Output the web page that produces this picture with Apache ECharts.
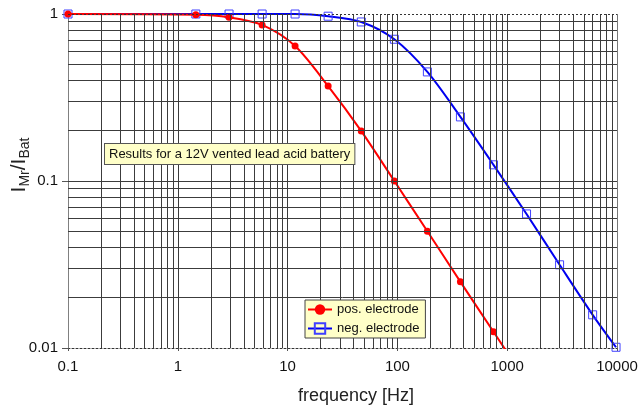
<!DOCTYPE html>
<html>
<head>
<meta charset="utf-8">
<script src="https://cdn.jsdelivr.net/npm/echarts@6/dist/echarts.min.js"></script>
<style>
  html, body { margin: 0; padding: 0; background: #fff; }
  #chart { width: 643px; height: 410px; }
</style>
</head>
<body>
<div id="chart"></div>
<script>
// Current ratio I_Mr / I_Bat versus frequency, per electrode
const freqPos  = [0.1, 1.46, 2.93, 5.86, 11.7, 23.4, 46.9, 93.8, 187.5, 375, 750, 1500];
const ratioPos = [1, 0.99, 0.955, 0.86, 0.643, 0.37, 0.199, 0.1, 0.05, 0.0249, 0.0125, 0.0063];

const freqNeg  = [0.1, 1.46, 2.93, 5.86, 11.7, 23.4, 46.9, 93.8, 187.5, 375, 750, 1500, 3000, 6000, 9800];
const ratioNeg = [1, 1, 1, 1, 1, 0.97, 0.896, 0.706, 0.45, 0.242, 0.125, 0.0635, 0.0315, 0.0158, 0.0101];

const seriesNames = ['pos. electrode', 'neg. electrode'];
const xTickLabels = ['0.1', '1', '10', '100', '1000', '10000'];
const yTickLabels = ['0.01', '0.1', '1'];
const noteText = 'Results for a 12V vented lead acid battery';

const FONT = '"Liberation Sans", Arial, sans-serif';
const GRID_COLOR = '#3c3c3c';

// Log-paper grid: lines at 2..9 within each decade plus the decade lines
const gridLines = [];
const solid = { type: 'solid', color: GRID_COLOR, width: 1 };
const dotted = { type: [2, 2], color: '#333', width: 1 };
[0.1, 1, 10, 100, 1000].forEach(d => {
  for (let k = 2; k <= 9; k++) gridLines.push({ xAxis: +(d * k).toPrecision(6), lineStyle: solid });
});
[1, 10, 100, 1000].forEach(v => gridLines.push({ xAxis: v, lineStyle: solid }));
gridLines.push({ xAxis: 10000, lineStyle: { type: 'solid', color: '#777', width: 1 } });
[0.01, 0.1].forEach(d => {
  for (let k = 2; k <= 9; k++) gridLines.push({ yAxis: +(d * k).toPrecision(6), lineStyle: solid });
});
gridLines.push({ yAxis: 0.1, lineStyle: solid });
gridLines.push({ yAxis: 1, lineStyle: dotted });

const zip = (xs, ys) => xs.map((x, i) => [x, ys[i]]);
const decadeIndex = (v, min) => Math.round(Math.log10(v / min));

const chart = echarts.init(document.getElementById('chart'), null, { renderer: 'canvas' });
chart.setOption({
  animation: false,
  backgroundColor: '#fff',
  textStyle: { fontFamily: FONT },
  grid: { left: 68, right: 26, top: 14, bottom: 62, containLabel: false, outerBoundsMode: 'none' },
  xAxis: {
    type: 'log', logBase: 10, min: 0.1, max: 10000,
    name: 'frequency [Hz]', nameLocation: 'middle', nameGap: 39,
    nameTextStyle: { fontSize: 18, color: '#222', fontFamily: FONT, padding: [0, 0, 0, 27] },
    axisLine: { show: true, lineStyle: { color: '#333', type: [2, 2], width: 1 } },
    axisTick: { show: true, length: 3, lineStyle: { color: '#555' } },
    axisLabel: {
      fontSize: 15, color: '#111', margin: 11, fontFamily: FONT,
      formatter: v => xTickLabels[decadeIndex(v, 0.1)]
    },
    splitLine: { show: false }
  },
  yAxis: {
    type: 'log', logBase: 10, min: 0.01, max: 1,
    name: '{m|I}{s|Mr}{m|/I}{s|Bat}', nameLocation: 'middle', nameGap: 36,
    nameMoveOverlap: false,
    nameTextStyle: {
      color: '#222', fontFamily: FONT, padding: [0, 0, 0, 32],
      rich: {
        m: { fontSize: 21, lineHeight: 26, color: '#222', fontFamily: FONT },
        s: { fontSize: 14, lineHeight: 14, verticalAlign: 'bottom', color: '#222', fontFamily: FONT }
      }
    },
    axisLine: { show: true, lineStyle: { color: '#808080', width: 1 } },
    axisTick: { show: true, length: 6, lineStyle: { color: '#555' } },
    axisLabel: {
      fontSize: 15, color: '#111', margin: 10, fontFamily: FONT,
      formatter: v => yTickLabels[decadeIndex(v, 0.01)]
    },
    splitLine: { show: false }
  },
  legend: {
    data: seriesNames, z: 20,
    orient: 'vertical', left: 305, top: 300,
    backgroundColor: '#FFFFC8', borderColor: '#444', borderWidth: 1,
    padding: [3, 6, 3, 2], itemGap: 6, itemWidth: 24, itemHeight: 13,
    textStyle: { fontSize: 13, color: '#111', fontFamily: FONT }
  },
  graphic: [{
    type: 'text', left: 104, top: 143, silent: true, z: 10,
    style: {
      text: noteText, font: '13px ' + FONT, fill: '#111',
      backgroundColor: '#FFFFC8', borderColor: '#555', borderWidth: 1,
      padding: [4, 4, 3, 4]
    }
  }],
  series: [
    {
      name: 'grid', type: 'line', data: [], silent: true, z: 1,
      markLine: {
        silent: true, symbol: ['none', 'none'], animation: false,
        label: { show: false }, emphasis: { disabled: true },
        data: gridLines
      }
    },
    {
      name: seriesNames[1], type: 'line', z: 3,
      data: zip(freqNeg, ratioNeg),
      smooth: 0.3, clip: true,
      symbol: 'rect', symbolSize: 8, showAllSymbol: true,
      lineStyle: { color: '#0000F0', width: 2 },
      itemStyle: { color: 'rgba(255,255,255,0)', borderColor: '#4040FF', borderWidth: 1 }
    },
    {
      name: seriesNames[0], type: 'line', z: 4,
      data: zip(freqPos, ratioPos),
      smooth: 0.3, clip: true,
      symbol: 'circle', symbolSize: 7, showAllSymbol: true,
      lineStyle: { color: '#FF0000', width: 2 },
      itemStyle: { color: '#FF0000' }
    }
  ]
});
</script>
</body>
</html>
